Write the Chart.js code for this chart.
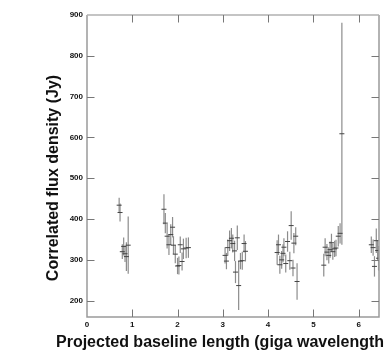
<!DOCTYPE html>
<html>
<head>
<meta charset="utf-8">
<script src="https://cdn.jsdelivr.net/npm/chart.js@4"></script>
<style>
  html, body { margin: 0; padding: 0; background: #fff; }
  #wrap { width: 384px; height: 352px; }
</style>
</head>
<body>
<div id="wrap"><canvas id="flux-chart" width="384" height="352"></canvas></div>
<script>
// projected baseline (giga wavelength)
const baseline = [
  0.71, 0.73, 0.78, 0.81, 0.84, 0.87, 0.91,
  1.70, 1.73, 1.77, 1.81, 1.85, 1.89, 1.91, 1.95, 2.00, 2.03, 2.06, 2.10, 2.13, 2.19, 2.24,
  3.05, 3.08, 3.11, 3.15, 3.19, 3.22, 3.26, 3.28, 3.32, 3.35, 3.39, 3.43, 3.47, 3.50,
  4.20, 4.23, 4.26, 4.30, 4.33, 4.35, 4.39, 4.43, 4.48, 4.51, 4.55, 4.57, 4.61, 4.64,
  5.23, 5.26, 5.30, 5.34, 5.37, 5.40, 5.43, 5.47, 5.50, 5.55, 5.59, 5.63,
  6.28, 6.32, 6.35, 6.39, 6.42, 6.44
];
// correlated flux density (Jy)
const flux = [
  434, 416, 320, 333, 315, 308, 336,
  424, 390, 358, 337, 362, 380, 336, 314, 285, 286, 337, 296, 327, 329, 330,
  311, 297, 330, 347, 353, 340, 322, 270, 354, 237, 297, 298, 340, 321,
  318, 337, 288, 300, 316, 331, 291, 345, 298, 384, 280, 341, 358, 247,
  287, 331, 319, 311, 325, 342, 320, 327, 329, 358, 365, 609,
  337, 330, 284, 347, 323, 304
];
const fluxErr = [
  18, 22, 18, 22, 20, 35, 70,
  37, 25, 30, 25, 25, 25, 22, 22, 20, 22, 20, 22, 25, 25, 25,
  20, 20, 20, 25, 25, 22, 25, 27, 30, 60, 20, 22, 22, 25,
  30, 25, 22, 22, 22, 22, 22, 25, 22, 35, 20, 25, 22, 45,
  28, 22, 20, 20, 20, 22, 20, 20, 20, 25, 25, 272,
  20, 20, 25, 30, 25, 30
];
const xTicks = [0, 1, 2, 3, 4, 5, 6];
const yTicks = [200, 300, 400, 500, 600, 700, 800, 900];

const points = baseline.map((b, i) => ({ x: b, y: flux[i] }));

// frame, inward ticks, labels, titles and error bars
const framePlugin = {
  id: 'frame',
  beforeDatasetsDraw(chart) {
    const { ctx, chartArea: a, scales: { x, y } } = chart;
    ctx.save();
    // error bars
    ctx.strokeStyle = '#8c8c8c';
    ctx.lineWidth = 1.2;
    points.forEach((p, i) => {
      const px = x.getPixelForValue(p.x);
      ctx.beginPath();
      ctx.moveTo(px, y.getPixelForValue(p.y + fluxErr[i]));
      ctx.lineTo(px, y.getPixelForValue(p.y - fluxErr[i]));
      ctx.stroke();
    });
    ctx.restore();
  },
  afterDraw(chart) {
    const { ctx, chartArea: a, scales: { x, y } } = chart;
    ctx.save();
    // box
    ctx.strokeStyle = '#9a9a9a';
    ctx.lineWidth = 1.5;
    ctx.beginPath();
    ctx.moveTo(a.left, a.top);
    ctx.lineTo(a.left, a.bottom);
    ctx.lineTo(a.right, a.bottom);
    ctx.lineTo(a.right, a.top);
    ctx.stroke();
    ctx.strokeStyle = '#b0b0b0';
    ctx.beginPath();
    ctx.moveTo(a.left, a.top);
    ctx.lineTo(a.right, a.top);
    ctx.stroke();

    // ticks pointing in
    ctx.strokeStyle = '#777';
    ctx.lineWidth = 1;
    const len = 7.5;
    xTicks.forEach(v => {
      if (v === 0) return;
      const px = Math.round(x.getPixelForValue(v)) + 0.5;
      ctx.beginPath();
      ctx.moveTo(px, a.top); ctx.lineTo(px, a.top + len);
      ctx.moveTo(px, a.bottom); ctx.lineTo(px, a.bottom - len);
      ctx.stroke();
    });
    yTicks.forEach(v => {
      if (v === 900) return;
      const py = Math.round(y.getPixelForValue(v)) + 0.5;
      ctx.beginPath();
      ctx.moveTo(a.left, py); ctx.lineTo(a.left + len, py);
      ctx.moveTo(a.right, py); ctx.lineTo(a.right - len, py);
      ctx.stroke();
    });

    // tick labels
    ctx.fillStyle = '#111';
    ctx.font = 'bold 8px "Liberation Sans", Arial, sans-serif';
    ctx.textBaseline = 'middle';
    ctx.textAlign = 'right';
    yTicks.forEach(v => ctx.fillText(String(v), a.left - 4, y.getPixelForValue(v)));
    ctx.textAlign = 'center';
    xTicks.forEach(v => ctx.fillText(String(v), x.getPixelForValue(v), a.bottom + 8));

    // axis titles
    ctx.font = 'bold 16px "Liberation Sans", Arial, sans-serif';
    ctx.textAlign = 'left';
    ctx.textBaseline = 'middle';
    ctx.fillText('Projected baseline length (giga wavelength)', 56, 343);
    ctx.translate(54, 178);
    ctx.rotate(-Math.PI / 2);
    ctx.textAlign = 'center';
    ctx.fillText('Correlated flux density (Jy)', 0, 0);
    ctx.restore();
  }
};

new Chart(document.getElementById('flux-chart'), {
  type: 'scatter',
  data: {
    datasets: [{
      label: 'Correlated flux',
      data: points,
      pointStyle: 'line',
      pointRadius: 2.5,
      borderColor: '#444',
      backgroundColor: '#444',
      borderWidth: 1
    }]
  },
  options: {
    responsive: false,
    animation: false,
    layout: { padding: { left: 87, right: 3, top: 15, bottom: 35 } },
    plugins: {
      legend: { display: false },
      tooltip: { enabled: false }
    },
    scales: {
      x: { type: 'linear', min: 0, max: 6.45, display: false },
      y: { type: 'linear', min: 160, max: 900, display: false }
    }
  },
  plugins: [framePlugin]
});
</script>
</body>
</html>
